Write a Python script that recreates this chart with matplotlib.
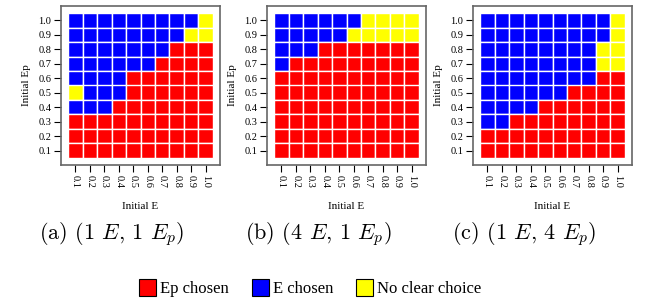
import numpy as np
import matplotlib
matplotlib.use("Agg")
import matplotlib.pyplot as plt
from matplotlib.patches import Patch

plt.rcParams['font.family'] = ['Liberation Serif', 'DejaVu Serif']
plt.rcParams['mathtext.fontset'] = 'cm'
plt.rcParams['axes.formatter.use_mathtext'] = True

# grid values: rows from Ep=1.0 (top) down to 0.1, columns E=0.1..1.0
# 0 = Ep chosen, 1 = E chosen, 2 = no clear choice
init_e = [0.1, 0.2, 0.3, 0.4, 0.5, 0.6, 0.7, 0.8, 0.9, 1.0]
init_ep = [1.0, 0.9, 0.8, 0.7, 0.6, 0.5, 0.4, 0.3, 0.2, 0.1]
tick_labels = ["0.1", "0.2", "0.3", "0.4", "0.5", "0.6", "0.7", "0.8", "0.9", "1.0"]

grid_a = [
    [1, 1, 1, 1, 1, 1, 1, 1, 1, 2],
    [1, 1, 1, 1, 1, 1, 1, 1, 2, 2],
    [1, 1, 1, 1, 1, 1, 1, 0, 0, 0],
    [1, 1, 1, 1, 1, 1, 0, 0, 0, 0],
    [1, 1, 1, 1, 0, 0, 0, 0, 0, 0],
    [2, 1, 1, 1, 0, 0, 0, 0, 0, 0],
    [1, 1, 1, 0, 0, 0, 0, 0, 0, 0],
    [0, 0, 0, 0, 0, 0, 0, 0, 0, 0],
    [0, 0, 0, 0, 0, 0, 0, 0, 0, 0],
    [0, 0, 0, 0, 0, 0, 0, 0, 0, 0],
]
grid_b = [
    [1, 1, 1, 1, 1, 1, 2, 2, 2, 2],
    [1, 1, 1, 1, 1, 2, 2, 2, 2, 2],
    [1, 1, 1, 0, 0, 0, 0, 0, 0, 0],
    [1, 0, 0, 0, 0, 0, 0, 0, 0, 0],
    [0, 0, 0, 0, 0, 0, 0, 0, 0, 0],
    [0, 0, 0, 0, 0, 0, 0, 0, 0, 0],
    [0, 0, 0, 0, 0, 0, 0, 0, 0, 0],
    [0, 0, 0, 0, 0, 0, 0, 0, 0, 0],
    [0, 0, 0, 0, 0, 0, 0, 0, 0, 0],
    [0, 0, 0, 0, 0, 0, 0, 0, 0, 0],
]
grid_c = [
    [1, 1, 1, 1, 1, 1, 1, 1, 1, 2],
    [1, 1, 1, 1, 1, 1, 1, 1, 1, 2],
    [1, 1, 1, 1, 1, 1, 1, 1, 2, 2],
    [1, 1, 1, 1, 1, 1, 1, 1, 2, 2],
    [1, 1, 1, 1, 1, 1, 1, 1, 0, 0],
    [1, 1, 1, 1, 1, 1, 0, 0, 0, 0],
    [1, 1, 1, 1, 0, 0, 0, 0, 0, 0],
    [1, 1, 0, 0, 0, 0, 0, 0, 0, 0],
    [0, 0, 0, 0, 0, 0, 0, 0, 0, 0],
    [0, 0, 0, 0, 0, 0, 0, 0, 0, 0],
]
captions = [r"(a) (1 $E$, 1 $E_p$)", r"(b) (4 $E$, 1 $E_p$)", r"(c) (1 $E$, 4 $E_p$)"]
legend_names = ["Ep chosen", "E chosen", "No clear choice"]
colors = ["#ff0000", "#0000ff", "#ffff00"]

W, H = 649, 300
fig = plt.figure(figsize=(W / 100, H / 100), dpi=100)

lefts = [61, 267, 473]
for k, grid in enumerate([grid_a, grid_b, grid_c]):
    ax = fig.add_axes([lefts[k] / W, (H - 165) / H, 159 / W, 159 / H])
    g = np.array(grid)
    for i, ep in enumerate(init_ep):
        for j, e in enumerate(init_e):
            ax.bar(e, 0.1, width=0.1, bottom=ep - 0.05, color=colors[g[i, j]],
                   edgecolor='white', linewidth=1.0)
    ax.set_xlim(0, 1.1)
    ax.set_ylim(0, 1.1)
    ax.set_xticks(init_e)
    ax.set_xticklabels(tick_labels, rotation=270, fontsize=7.5)
    ax.set_yticks(init_e)
    ax.set_yticklabels(tick_labels, fontsize=7.5)
    ax.tick_params(direction='out', length=5, width=0.8, pad=2)
    for sp in ax.spines.values():
        sp.set_color('#666666')
        sp.set_linewidth(1.2)
    ax.set_xlabel("Initial E", fontsize=8, labelpad=10)
    ax.set_ylabel("Initial Ep", fontsize=8, labelpad=5)
    cx = (lefts[k] + 51) / W
    fig.text(cx, 1 - 234 / H, captions[k], ha='center', va='center', fontsize=16,
             family=['cmr10', 'Liberation Serif'])

handles = [Patch(facecolor=c, edgecolor='black', linewidth=0.8) for c in colors]
fig.legend(handles, legend_names, loc='center', bbox_to_anchor=(0.478, 1 - 288 / H),
           ncol=3, frameon=False, fontsize=12, handlelength=1.0, handleheight=1.2,
           handletextpad=0.25, columnspacing=1.4)

fig.savefig("out.png", dpi=100)
